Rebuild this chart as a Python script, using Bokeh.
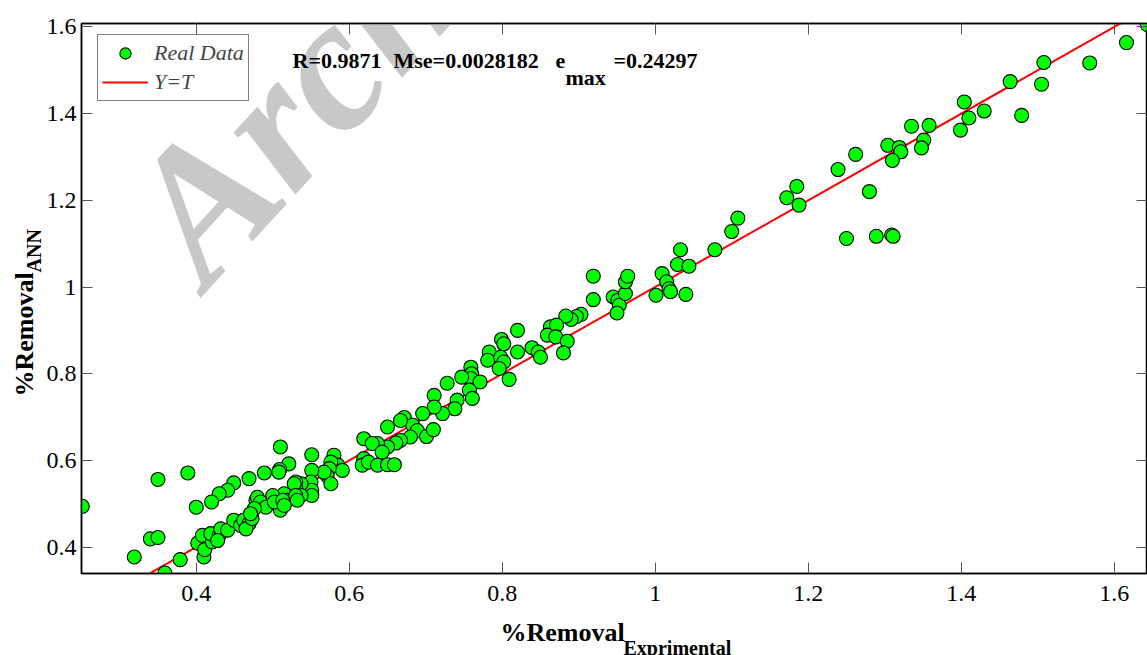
from bokeh.plotting import figure
from bokeh.models import (Label, Legend, LegendItem, LinearAxis, FixedTicker,
                          CustomJSTickFormatter, ColumnDataSource)
from bokeh.embed import file_html
from bokeh.resources import INLINE
import math

# ---- data: experimental (x) vs ANN predicted (y) ----
exp_x = [
    1.643, 1.616, 1.568, 1.508, 1.505, 1.464, 1.479, 1.430, 1.404, 1.410, 1.399, 1.358, 1.335, 1.351,
    1.348, 1.304, 1.319, 1.321, 1.310, 1.262, 1.239, 1.280, 1.185, 1.172, 1.188, 1.250, 1.289, 1.309,
    1.311, 1.108, 1.100, 1.078,
    0.919, 0.919, 0.903, 0.945, 0.951, 0.953, 0.950, 0.961, 0.961, 0.964, 1.009, 1.015, 1.018, 1.020,
    1.001, 1.040, 1.029, 1.033, 1.044,
    0.897, 0.890, 0.883, 0.863, 0.871, 0.859, 0.870, 0.885, 0.880, 0.820, 0.839, 0.847, 0.850, 0.799,
    0.802, 0.820, 0.783, 0.781, 0.798, 0.802, 0.796, 0.809, 0.759, 0.760, 0.759, 0.747, 0.771, 0.728,
    0.711, 0.757, 0.761, 0.741, 0.738, 0.722, 0.711, 0.696, 0.672, 0.683, 0.689, 0.680, 0.701, 0.710,
    0.667,
    0.650, 0.661, 0.650, 0.637, 0.619, 0.630, 0.643, 0.619, 0.617, 0.625, 0.637, 0.650, 0.659, 0.580,
    0.585, 0.591, 0.576, 0.574, 0.571, 0.576, 0.567, 0.551, 0.551, 0.550, 0.551, 0.551, 0.537, 0.530,
    0.530, 0.537, 0.521, 0.510, 0.515, 0.519, 0.510, 0.510, 0.667,
    0.509, 0.508, 0.489, 0.469, 0.449, 0.441, 0.430, 0.420, 0.400, 0.389, 0.350, 0.340, 0.350, 0.319,
    0.379, 0.359, 0.402, 0.410, 0.411, 0.408, 0.421, 0.419, 0.430, 0.432, 0.428, 0.441, 0.449, 0.458,
    0.462, 0.469, 0.465, 0.473, 0.478, 0.480, 0.484, 0.491, 0.476, 0.471, 0.500, 0.502, 0.513, 0.515,
    0.528, 0.530, 0.532, 0.251,
]
ann_y = [
    1.606, 1.564, 1.517, 1.518, 1.468, 1.474, 1.396, 1.406, 1.427, 1.390, 1.362, 1.373, 1.371, 1.339,
    1.321, 1.327, 1.322, 1.312, 1.292, 1.306, 1.271, 1.220, 1.232, 1.206, 1.189, 1.112, 1.117, 1.120,
    1.117, 1.159, 1.128, 1.086,
    1.025, 0.971, 0.937, 0.977, 0.969, 0.958, 0.940, 0.985, 1.012, 1.025, 1.031, 1.012, 0.996, 0.989,
    0.981, 0.983, 1.052, 1.086, 1.048,
    0.932, 0.925, 0.933, 0.908, 0.912, 0.889, 0.885, 0.875, 0.848, 0.900, 0.860, 0.850, 0.838, 0.879,
    0.869, 0.850, 0.850, 0.831, 0.838, 0.827, 0.812, 0.787, 0.815, 0.800, 0.789, 0.792, 0.781, 0.778,
    0.750, 0.762, 0.743, 0.739, 0.719, 0.708, 0.723, 0.708, 0.699, 0.681, 0.669, 0.654, 0.655, 0.671,
    0.646,
    0.677, 0.640, 0.631, 0.639, 0.650, 0.639, 0.619, 0.604, 0.589, 0.596, 0.589, 0.590, 0.590, 0.612,
    0.589, 0.577, 0.596, 0.581, 0.565, 0.546, 0.573, 0.613, 0.577, 0.550, 0.531, 0.519, 0.546, 0.550,
    0.535, 0.519, 0.592, 0.631, 0.523, 0.508, 0.504, 0.485, 0.692,
    0.579, 0.573, 0.571, 0.558, 0.548, 0.531, 0.523, 0.504, 0.492, 0.571, 0.556, 0.419, 0.422, 0.377,
    0.371, 0.340, 0.409, 0.377, 0.394, 0.427, 0.412, 0.431, 0.427, 0.442, 0.415, 0.439, 0.462, 0.450,
    0.462, 0.454, 0.442, 0.466, 0.508, 0.515, 0.504, 0.492, 0.489, 0.477, 0.519, 0.504, 0.508, 0.496,
    0.546, 0.519, 0.508, 0.494,
]
ref_line = [0.25, 1.65]          # Y = T line end points (identity)
x_ticks = [0.4, 0.6, 0.8, 1.0, 1.2, 1.4, 1.6]
y_ticks = [0.4, 0.6, 0.8, 1.0, 1.2, 1.4, 1.6]
stats = ["R=0.9871", "Mse=0.0028182", "e", "max", "=0.24297"]

SERIF = "Liberation Serif"
XR = (0.25, 1.6435)
YR = (0.339, 1.608)
# frame box on the page (pixels)
FL, FR, FT, FB = 81, 1147, 23, 573

def px2x(px):
    return XR[0] + (px - FL) / (FR - FL) * (XR[1] - XR[0])

def py2y(py):
    return YR[0] + (FB - py) / (FB - FT) * (YR[1] - YR[0])

p = figure(width=1147, height=655, x_range=XR, y_range=YR,
           min_border_left=FL, min_border_right=0, min_border_top=FT, min_border_bottom=655 - FB,
           output_backend="svg", toolbar_location=None)
p.grid.visible = False
p.outline_line_color = "black"
p.outline_line_width = 1.5
p.background_fill_color = "white"
p.border_fill_color = "white"

fmt = CustomJSTickFormatter(code="return String(Math.round(tick*10)/10);")
blank = CustomJSTickFormatter(code="return '';")

def style_axis(ax, show_labels=True, size="23px"):
    ax.axis_line_color = "black"
    ax.axis_line_width = 1.5
    ax.major_tick_in = 11
    ax.major_tick_out = 0
    ax.major_tick_line_color = "#555555"
    ax.major_tick_line_width = 1
    ax.minor_tick_line_color = None
    if show_labels:
        ax.formatter = fmt
        ax.major_label_text_font = SERIF
        ax.major_label_text_font_size = size
        ax.major_label_text_color = "black"
        ax.major_label_standoff = 5
    else:
        ax.formatter = blank
        ax.major_label_text_font_size = "1px"
        ax.major_label_standoff = 0

p.xaxis.ticker = FixedTicker(ticks=x_ticks)
p.yaxis.ticker = FixedTicker(ticks=y_ticks)
style_axis(p.xaxis[0], size="24px")
style_axis(p.yaxis[0], size="24px")
p.xaxis.major_label_standoff = 12
# let the y-axis title labels share the room beside the tick labels
p.yaxis.axis_label = " "
p.yaxis.axis_label_text_font_size = "1px"
p.yaxis.axis_label_text_alpha = 0
p.yaxis.axis_label_standoff = -30

top_ax = LinearAxis(ticker=FixedTicker(ticks=x_ticks))
style_axis(top_ax, show_labels=False)
p.add_layout(top_ax, "above")
right_ax = LinearAxis(ticker=FixedTicker(ticks=y_ticks))
style_axis(right_ax, show_labels=False)
p.add_layout(right_ax, "right")

# watermark
wm = Label(x=px2x(237), y=py2y(318), text="Archive of SID",
           angle=0.83, text_font=SERIF, text_font_size="190px", text_font_style="bold italic",
           text_color="#c8c8c8", level="underlay")
p.add_layout(wm)

src = ColumnDataSource(dict(x=exp_x, y=ann_y))
line_r = p.line(ref_line, ref_line, line_color="#ff0000", line_width=2)
pts = p.scatter("x", "y", source=src, size=14, fill_color="#00ff00", line_color="black",
                line_width=1.1)

legend = Legend(items=[LegendItem(label="Real Data", renderers=[pts]),
                       LegendItem(label="Y=T", renderers=[line_r])],
                location=(16, 472), padding=4, spacing=1, glyph_width=46, glyph_height=28,
                label_standoff=6, label_text_font=SERIF, label_text_font_size="22px",
                label_text_font_style="italic", border_line_color="black",
                border_line_width=1.2, background_fill_color="white", background_fill_alpha=1)
p.add_layout(legend)

def lab(px, py, t, size="22px", side=None, **kw):
    l = Label(x=px2x(px), y=py2y(py), text=t,
              text_font=SERIF, text_font_size=size, text_font_style="bold",
              text_color="black", text_baseline="alphabetic", **kw)
    if side is None:
        p.add_layout(l)
    else:
        p.add_layout(l, side)

# stats text (inside the frame)
lab(292, 60, stats[0])
lab(393, 60, stats[1])
lab(555, 60, stats[2])
lab(565, 77, stats[3])
lab(613, 60, stats[4])

# axis titles with subscripts (side panels, so they are not clipped to the frame)
lab(500, 632, "%Removal", size="26px", side="below")
lab(623, 647, "Exprimental", size="20px", side="above")
lab(24, 396, "%Removal", size="26px", side="left", angle=math.pi / 2)
lab(33, 272, "ANN", size="20px", side="left", angle=math.pi / 2)

open("out.html", "w").write(file_html(p, INLINE))
